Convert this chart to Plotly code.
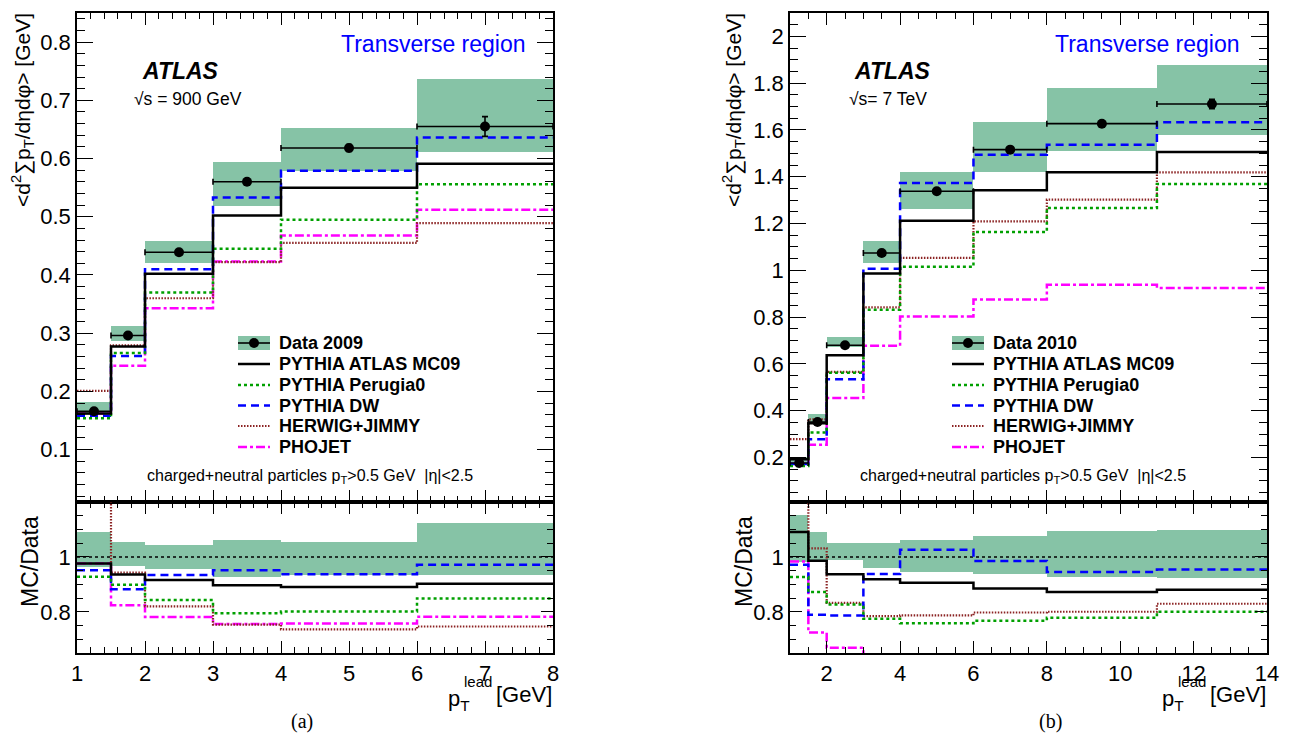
import plotly.graph_objects as go

W, H = 1291, 735
OFF = 8  # page body margin of the exported html

# ---------------- data: (a) sqrt(s) = 900 GeV ----------------
edges_a = [1, 1.5, 2, 3, 4, 6, 8]
data_a = [0.166, 0.296, 0.439, 0.560, 0.618, 0.655]
stat_a = [0.002, 0.003, 0.004, 0.005, 0.006, 0.017]
band_lo_a = [0.160, 0.286, 0.420, 0.519, 0.578, 0.612]
band_hi_a = [0.181, 0.312, 0.458, 0.594, 0.652, 0.737]
mc09_a = [0.162, 0.277, 0.402, 0.502, 0.550, 0.591]
perugia0_a = [0.154, 0.266, 0.370, 0.445, 0.495, 0.556]
dw_a = [0.158, 0.261, 0.410, 0.533, 0.579, 0.636]
herwig_a = [0.201, 0.279, 0.360, 0.422, 0.455, 0.489]
phojet_a = [0.162, 0.244, 0.343, 0.423, 0.468, 0.512]

# ---------------- data: (b) sqrt(s) = 7 TeV ----------------
edges_b = [1, 1.5, 2, 3, 4, 6, 8, 11, 14]
data_b = [0.177, 0.352, 0.680, 1.074, 1.338, 1.516, 1.627, 1.711]
stat_b = [0.002, 0.003, 0.004, 0.006, 0.008, 0.010, 0.012, 0.020]
band_lo_b = [0.174, 0.348, 0.672, 1.032, 1.264, 1.420, 1.509, 1.580]
band_hi_b = [0.204, 0.384, 0.715, 1.127, 1.420, 1.634, 1.780, 1.879]
mc09_b = [0.193, 0.347, 0.637, 0.987, 1.212, 1.342, 1.419, 1.506]
perugia0_b = [0.164, 0.307, 0.562, 0.832, 1.015, 1.164, 1.267, 1.369]
dw_b = [0.172, 0.278, 0.535, 1.007, 1.373, 1.494, 1.537, 1.633]
herwig_b = [0.279, 0.363, 0.566, 0.842, 1.053, 1.209, 1.302, 1.419]
phojet_b = [0.174, 0.255, 0.455, 0.678, 0.803, 0.875, 0.939, 0.925]

legend_names = ["PYTHIA ATLAS MC09", "PYTHIA Perugia0", "PYTHIA DW",
                "HERWIG+JIMMY", "PHOJET"]

FONT = "Liberation Sans"
BAND = "#86c3a6"
styles = [
    dict(color="black", width=2.5, dash="solid"),
    dict(color="#00a000", width=2.5, dash="3px,3px"),
    dict(color="#0000ff", width=2.5, dash="8px,5px"),
    dict(color="#8b2323", width=2.2, dash="1.5px,1.5px"),
    dict(color="#ff00ff", width=2.5, dash="9px,3px,3px,3px"),
]

fig = go.Figure()


def add_panel(edges, data, stat, lo, hi, mcs, xa_top, ya_top, xa_rat, ya_rat):
    centers = [(edges[i] + edges[i + 1]) / 2 for i in range(len(data))]
    widths = [edges[i + 1] - edges[i] for i in range(len(data))]
    half = [w / 2 for w in widths]
    # band (top)
    fig.add_trace(go.Bar(x=centers, y=[h - l for h, l in zip(hi, lo)], base=lo,
                         width=widths, marker=dict(color=BAND, line=dict(width=0)),
                         xaxis=xa_top, yaxis=ya_top, hoverinfo="skip"))
    # band (ratio)
    rlo = [l / d for l, d in zip(lo, data)]
    rhi = [h / d for h, d in zip(hi, data)]
    fig.add_trace(go.Bar(x=centers, y=[h - l for h, l in zip(rhi, rlo)], base=rlo,
                         width=widths, marker=dict(color=BAND, line=dict(width=0)),
                         xaxis=xa_rat, yaxis=ya_rat, hoverinfo="skip"))
    # unity line
    fig.add_trace(go.Scatter(x=[edges[0], edges[-1]], y=[1, 1], mode="lines",
                             line=dict(color="black", width=1.5, dash="3px,3px"),
                             xaxis=xa_rat, yaxis=ya_rat))
    # MC curves (draw in reverse so black is on top)
    for vals, st in reversed(list(zip(mcs, styles))):
        fig.add_trace(go.Scatter(x=list(edges), y=list(vals) + [vals[-1]], mode="lines",
                                 line=dict(shape="hv", **st), xaxis=xa_top, yaxis=ya_top))
        r = [v / d for v, d in zip(vals, data)]
        fig.add_trace(go.Scatter(x=list(edges), y=r + [r[-1]], mode="lines",
                                 line=dict(shape="hv", **st), xaxis=xa_rat, yaxis=ya_rat))
    # data points
    fig.add_trace(go.Scatter(x=centers, y=data, mode="markers",
                             marker=dict(color="black", size=10),
                             error_x=dict(type="data", array=half, width=3, thickness=1.6,
                                          color="black"),
                             error_y=dict(type="data", array=stat, width=3, thickness=1.6,
                                          color="black"),
                             xaxis=xa_top, yaxis=ya_top))


add_panel(edges_a, data_a, stat_a, band_lo_a, band_hi_a,
          [mc09_a, perugia0_a, dw_a, herwig_a, phojet_a], "x", "y", "x2", "y2")
add_panel(edges_b, data_b, stat_b, band_lo_b, band_hi_b,
          [mc09_b, perugia0_b, dw_b, herwig_b, phojet_b], "x3", "y3", "x4", "y4")


def px_x(p):
    return (p - OFF) / W


def px_y(p):
    return 1 - (p - OFF) / H


tickfont = dict(size=22, family=FONT, color="black")


def xaxis(dom, rng, dtick, mdtick, anchor, labels):
    return dict(domain=dom, range=rng, anchor=anchor, showticklabels=labels,
                automargin=False,
                ticks="inside", ticklen=12, tickwidth=1, tickcolor="black",
                tickmode="linear", dtick=dtick, tick0=0,
                minor=dict(ticks="inside", ticklen=6, tickmode="linear", dtick=mdtick,
                           tick0=0, tickcolor="black", tickwidth=1),
                showline=True, linecolor="black", linewidth=1.5, mirror="allticks",
                showgrid=False, zeroline=False, tickfont=tickfont)


def yaxis(dom, rng, anchor, dtick=None, mdtick=None, tickvals=None, ticklen=16, mlen=8):
    d = dict(domain=dom, range=rng, anchor=anchor, automargin=False,
             ticks="inside", ticklen=ticklen,
             tickwidth=1, tickcolor="black",
             minor=dict(ticks="inside", ticklen=mlen, tickmode="linear", dtick=mdtick,
                        tick0=0, tickcolor="black", tickwidth=1),
             showline=True, linecolor="black", linewidth=1.5, mirror="allticks",
             showgrid=False, zeroline=False, tickfont=tickfont)
    if tickvals is not None:
        d.update(tickmode="array", tickvals=tickvals)
    else:
        d.update(tickmode="linear", dtick=dtick, tick0=0)
    return d


xl = [px_x(77), px_x(553)]
xr = [px_x(790), px_x(1267)]
yt = [px_y(502), px_y(13)]
yr = [px_y(653), px_y(502)]

fig.update_layout(
    width=W, height=H, margin=dict(l=0, r=0, t=0, b=0, autoexpand=False),
    paper_bgcolor="white", plot_bgcolor="white", showlegend=False,
    barmode="overlay", bargap=0,
    xaxis=xaxis(xl, [1, 8], 1, 0.2, "y", False),
    yaxis=yaxis(yt, [0.01, 0.85], "x", dtick=0.1, mdtick=0.02),
    xaxis2=xaxis(xl, [1, 8], 1, 0.2, "y2", True),
    yaxis2=yaxis(yr, [0.65, 1.2], "x2", mdtick=0.05, tickvals=[0.8, 1.0], ticklen=12, mlen=6),
    xaxis3=xaxis(xr, [1, 14], 2, 0.5, "y3", False),
    yaxis3=yaxis(yt, [0.01, 2.1], "x3", dtick=0.2, mdtick=0.05),
    xaxis4=xaxis(xr, [1, 14], 2, 0.5, "y4", True),
    yaxis4=yaxis(yr, [0.65, 1.2], "x4", mdtick=0.05, tickvals=[0.8, 1.0], ticklen=12, mlen=6),
)

anns = []


def ann(text, x, y, size, xanchor="center", yanchor="middle", color="black",
        family=FONT, angle=0):
    anns.append(dict(text=text, x=px_x(x), y=px_y(y), xref="paper", yref="paper",
                     showarrow=False, xanchor=xanchor, yanchor=yanchor, textangle=angle,
                     font=dict(size=size, color=color, family=family), borderpad=0))


shapes = []
legend_rows = [343, 364, 385, 405.5, 426, 447]


def legend(x0, x1, xt, first):
    ym = legend_rows[0]
    shapes.append(dict(type="rect", xref="paper", yref="paper", x0=px_x(x0), x1=px_x(x1),
                       y0=px_y(ym + 7), y1=px_y(ym - 7), fillcolor=BAND,
                       line=dict(width=0)))
    shapes.append(dict(type="line", xref="paper", yref="paper", x0=px_x(x0), x1=px_x(x1),
                       y0=px_y(ym), y1=px_y(ym), line=dict(color="black", width=1.6)))
    xc = (x0 + x1) / 2
    shapes.append(dict(type="circle", xref="paper", yref="paper", x0=px_x(xc - 5),
                       x1=px_x(xc + 5), y0=px_y(ym + 5), y1=px_y(ym - 5),
                       fillcolor="black", line=dict(width=0)))
    ann("<b>" + first + "</b>", xt, ym, 18, xanchor="left")
    for name, st, yy in zip(legend_names, styles, legend_rows[1:]):
        shapes.append(dict(type="line", xref="paper", yref="paper", x0=px_x(x0),
                           x1=px_x(x1), y0=px_y(yy), y1=px_y(yy), line=st))
        ann("<b>" + name + "</b>", xt, yy, 18, xanchor="left")


legend(238, 270, 278, "Data 2009")
legend(952, 984, 992, "Data 2010")

ytitle = "&lt;d<sup>2</sup>∑p<sub>T</sub>/dηdφ&gt; [GeV]"

# panel (a) texts
ann("<b><i>ATLAS</i></b>", 180, 71, 23)
ann("√s = 900 GeV", 188, 99, 17.5)
ann("Transverse region", 433, 44, 23, color="#0000ff")
ann("charged+neutral particles p<sub>T</sub>&gt;0.5 GeV  |η|&lt;2.5", 310, 476, 16)
ann(ytitle, 22, 12, 21, yanchor="top", angle=-90)
ann("MC/Data", 30, 562, 23, angle=-90)
ann("[GeV]", 553, 694, 22, xanchor="right")
ann("p<sub>T</sub>", 447, 700, 22, xanchor="left")
ann("lead", 463, 681, 15, xanchor="left")
ann("(a)", 302, 721, 20, family="Liberation Serif")

# panel (b) texts
ann("<b><i>ATLAS</i></b>", 892, 71, 23)
ann("√s= 7 TeV", 888, 99, 17.5)
ann("Transverse region", 1147, 44, 23, color="#0000ff")
ann("charged+neutral particles p<sub>T</sub>&gt;0.5 GeV  |η|&lt;2.5", 1023, 476, 16)
ann(ytitle, 733, 12, 21, yanchor="top", angle=-90)
ann("MC/Data", 744, 562, 23, angle=-90)
ann("[GeV]", 1267, 694, 22, xanchor="right")
ann("p<sub>T</sub>", 1161, 700, 22, xanchor="left")
ann("lead", 1177, 681, 15, xanchor="left")
ann("(b)", 1050, 721, 20, family="Liberation Serif")

fig.update_layout(annotations=anns, shapes=shapes)
fig.write_html("out.html")
